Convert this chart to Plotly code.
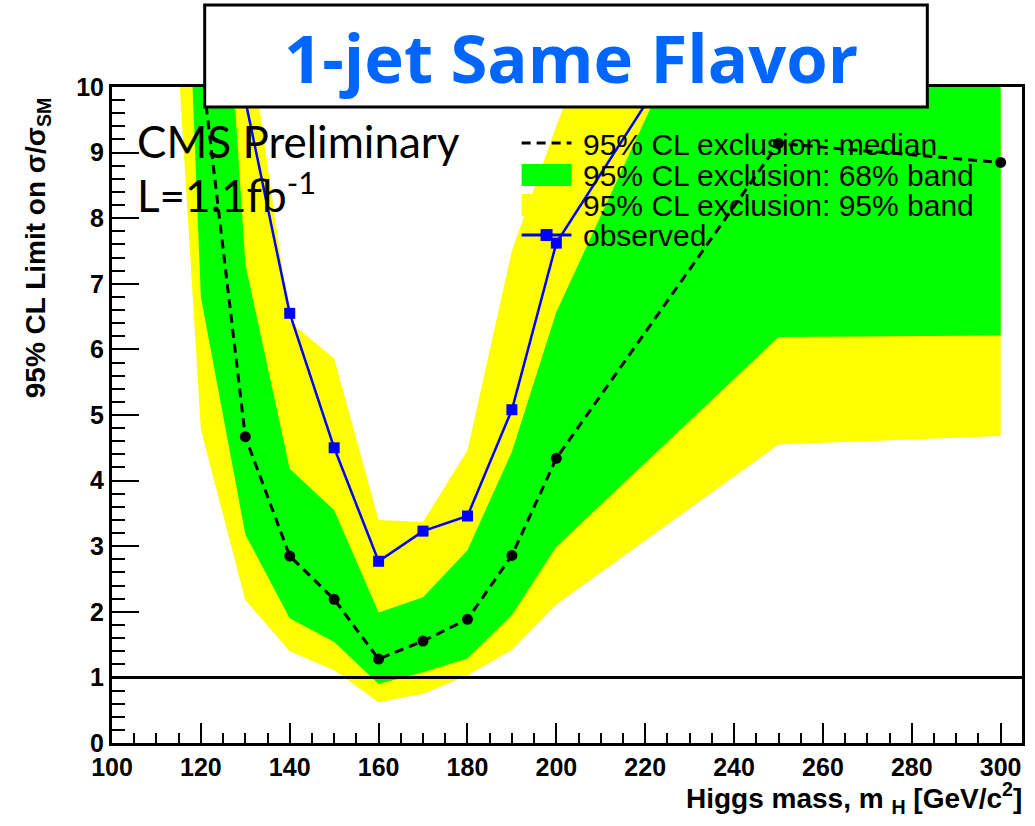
import plotly.graph_objects as go

# Expected-limit bands: mass points and band edges (ratio to SM cross section)
band_mass = [115, 120, 130, 140, 150, 160, 170, 180, 190, 200, 250, 300]
band95_lo = [10.3, 4.78, 2.18, 1.40, 1.11, 0.62, 0.75, 1.03, 1.42, 2.11, 4.55, 4.68]
band68_lo = [15.35, 6.80, 3.18, 1.90, 1.54, 0.90, 1.08, 1.29, 1.95, 2.99, 6.19, 6.21]
band68_hi = [28.0, 17.8, 7.30, 4.18, 3.55, 1.99, 2.22, 2.94, 4.44, 6.57, 13.9, 14.0]
band95_hi = [40.0, 25.0, 11.2, 6.42, 5.86, 3.40, 3.37, 4.46, 7.50, 9.40, 18.5, 18.0]

# Median expected limit
median_mass = [120, 130, 140, 150, 160, 170, 180, 190, 200, 250, 300]
median_limit = [10.4, 4.67, 2.85, 2.19, 1.28, 1.555, 1.886, 2.86, 4.34, 9.14, 8.85]

# Observed limit
obs_mass = [130, 140, 150, 160, 170, 180, 190, 200, 250]
obs_limit = [9.8, 6.55, 4.50, 2.77, 3.23, 3.46, 5.08, 7.62, 12.9]

x_ticks = [100, 120, 140, 160, 180, 200, 220, 240, 260, 280, 300]
y_ticks = list(range(0, 11))

legend_labels = [
    "95% CL exclusion: median",
    "95% CL exclusion: 68% band",
    "95% CL exclusion: 95% band",
    "observed",
]

YELLOW = "#ffff00"
GREEN = "#00ff00"
BLUE = "#0000ff"
TITLE_BLUE = "#0066ff"

# plot-area geometry in pixels (for placing the legend and labels)
W, H = 1035, 826
ML, MR, MT, MB = 112, 10, 87, 83
PW, PH = W - ML - MR, H - MT - MB


def px(xpix):
    return (xpix - ML) / PW


def py(ypix):
    return (H - MB - ypix) / PH


fig = go.Figure()

fig.add_trace(go.Scatter(
    x=band_mass + band_mass[::-1],
    y=band95_lo + band95_hi[::-1],
    fill="toself", fillcolor=YELLOW, mode="lines",
    line=dict(width=0, color=YELLOW), showlegend=False,
    name=legend_labels[2],
))
fig.add_trace(go.Scatter(
    x=band_mass + band_mass[::-1],
    y=band68_lo + band68_hi[::-1],
    fill="toself", fillcolor=GREEN, mode="lines",
    line=dict(width=0, color=GREEN), showlegend=False,
    name=legend_labels[1],
))
fig.add_trace(go.Scatter(
    x=median_mass, y=median_limit, mode="lines+markers",
    line=dict(color="black", width=3, dash="9px,6px"),
    marker=dict(symbol="circle", size=11, color="black"),
    showlegend=False, name=legend_labels[0],
))
fig.add_trace(go.Scatter(
    x=obs_mass, y=obs_limit, mode="lines+markers",
    line=dict(color=BLUE, width=2.5),
    marker=dict(symbol="square", size=11, color=BLUE),
    showlegend=False, name=legend_labels[3],
))

# SM reference line at ratio 1
fig.add_shape(type="line", xref="paper", yref="y", x0=0, x1=1, y0=1, y1=1,
              line=dict(color="black", width=3), layer="above")

# Legend (transparent, drawn over the bands)
sym_x0, sym_x1, text_x = 523, 573, 583
row_y = [145, 175, 205, 235]
fig.add_shape(type="line", xref="paper", yref="paper",
              x0=px(sym_x0), x1=px(sym_x1), y0=py(row_y[0] - 2), y1=py(row_y[0] - 2),
              line=dict(color="black", width=3, dash="9px,6px"), layer="above")
fig.add_shape(type="rect", xref="paper", yref="paper",
              x0=px(sym_x0), x1=px(sym_x1), y0=py(row_y[1] + 11), y1=py(row_y[1] - 11),
              line=dict(width=0), fillcolor=GREEN, layer="above")
fig.add_shape(type="rect", xref="paper", yref="paper",
              x0=px(sym_x0), x1=px(sym_x1), y0=py(row_y[2] + 11), y1=py(row_y[2] - 11),
              line=dict(width=0), fillcolor=YELLOW, layer="above")
fig.add_shape(type="line", xref="paper", yref="paper",
              x0=px(sym_x0), x1=px(sym_x1), y0=py(row_y[3]), y1=py(row_y[3]),
              line=dict(color=BLUE, width=3), layer="above")
xc = (sym_x0 + sym_x1) / 2
fig.add_shape(type="rect", xref="paper", yref="paper",
              x0=px(xc - 6), x1=px(xc + 6), y0=py(row_y[3] + 6), y1=py(row_y[3] - 6),
              line=dict(width=0), fillcolor=BLUE, layer="above")
for label, yy in zip(legend_labels, row_y):
    fig.add_annotation(xref="paper", yref="paper", x=px(text_x), y=py(yy),
                       text=label, showarrow=False, xanchor="left", yanchor="middle",
                       font=dict(family="Liberation Sans", size=30, color="black"))

# Title box
fig.add_shape(type="rect", xref="paper", yref="paper",
              x0=px(205), x1=px(930), y0=py(107), y1=py(5),
              line=dict(color="black", width=3), fillcolor="white", layer="above")
fig.add_annotation(xref="paper", yref="paper", x=px(573), y=py(57),
                   text="<b>1-jet Same Flavor</b>", showarrow=False,
                   xanchor="center", yanchor="middle",
                   font=dict(family="Open Sans", size=67, color=TITLE_BLUE))

fig.add_annotation(xref="paper", yref="paper", x=px(135), y=py(113),
                   text="CMS Preliminary", showarrow=False,
                   xanchor="left", yanchor="top",
                   font=dict(family="Lato", size=44, color="black"))
fig.add_annotation(xref="paper", yref="paper", x=px(135), y=py(162),
                   text="L=1.1fb<sup>-1</sup>", showarrow=False,
                   xanchor="left", yanchor="top",
                   font=dict(family="Lato", size=44, color="black"))

# Axis titles
fig.add_annotation(xref="paper", yref="paper", x=px(1027), y=py(798),
                   text="<b>Higgs mass, m <sub>H</sub> [GeV/c<sup>2</sup>]</b>",
                   showarrow=False, xanchor="right", yanchor="middle",
                   font=dict(family="Liberation Sans", size=28, color="black"))
fig.add_annotation(xref="paper", yref="paper", x=px(37), y=py(248),
                   text="<b>95% CL Limit on σ/σ<sub>SM</sub></b>",
                   showarrow=False, textangle=-90,
                   xanchor="center", yanchor="middle",
                   font=dict(family="Liberation Sans", size=28, color="black"))

tickfont = dict(family="Liberation Sans", size=25, color="black", weight="bold")

fig.update_xaxes(
    range=[100, 304.8], tickvals=x_ticks, ticktext=[str(v) for v in x_ticks],
    ticks="inside", ticklen=20, tickwidth=2, tickcolor="black",
    minor=dict(ticks="inside", ticklen=10, dtick=5, tickwidth=2, tickcolor="black"),
    showline=True, linecolor="black", linewidth=3, mirror=True,
    showgrid=False, zeroline=False, tickfont=tickfont,
)
fig.update_yaxes(
    range=[0, 10], tickvals=y_ticks, ticktext=[str(v) for v in y_ticks],
    ticks="inside", ticklen=27, tickwidth=2, tickcolor="black",
    minor=dict(ticks="inside", ticklen=13, dtick=0.2, tickwidth=2, tickcolor="black"),
    showline=True, linecolor="black", linewidth=3, mirror=True,
    showgrid=False, zeroline=False, tickfont=tickfont,
)

fig.update_layout(
    width=W, height=H,
    margin=dict(l=ML, r=MR, t=MT, b=MB),
    paper_bgcolor="white", plot_bgcolor="white",
    showlegend=False,
)

fig.write_html("out.html")
